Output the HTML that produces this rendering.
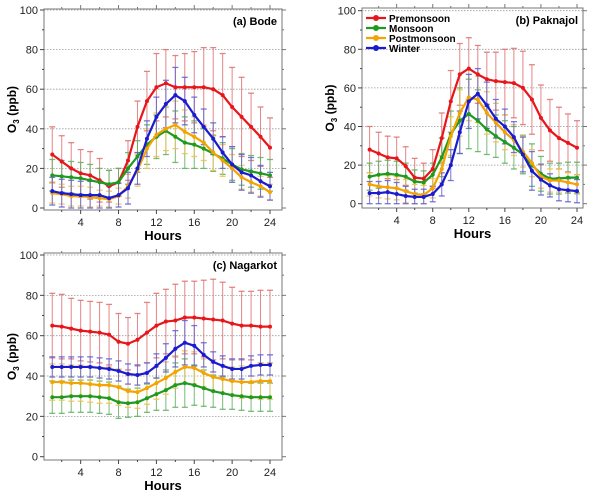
<!DOCTYPE html>
<html><head><meta charset="utf-8"><style>
body{margin:0;background:#fff;}
svg{display:block;font-family:"Liberation Sans",Arial,sans-serif;}
</style></head><body>
<svg id="fig" width="600" height="497" viewBox="0 0 600 497"></svg>
<script>
const hours=[1,2,3,4,5,6,7,8,9,10,11,12,13,14,15,16,17,18,19,20,21,22,23,24];
const xTicks=[4,8,12,16,20,24];
const yTicks=[0,20,40,60,80,100];
const seriesNames=["Premonsoon","Monsoon","Postmonsoon","Winter"];
const seriesColors=["#e8151b","#1f9a1f","#f5a300","#1a1ad0"];
const errColors=["#e07070","#5fb05f","#f0c050","#6060d0"];
// Panel (a) Bode
const bodePre=[27,23.5,20,17.5,16.5,14,11,13,24,41,54,61,63,61,61,61,61,60,57,51,46,41,36,30.5];
const bodePreErr=[14,13,13,12,12,11,8,7,10,13,15,17,17,16,17,18,20,21,21,20,20,17,15,15];
const bodeMon=[16.5,16,15.5,15,14,13,12,13,20,26,32,36,39,36,33,32,30,27.5,25,22,19.5,18.5,17.5,16.5];
const bodeMonErr=[8,8,8,8,8,7,7,7,8,8,10,11,12,13,13,12,10,9,8,8,8,8,8,8];
const bodePost=[7.5,7,6,6,5.5,5,4.5,6,11,19,30,37,40,42,38.5,36,33,28,24,20,15.5,13,11,8];
const bodePostErr=[5,5,5,5,5,4,4,4,6,8,10,11,11,12,11,10,9,9,8,7,6,5,5,4];
const bodeWin=[8.5,7.5,7,6.5,6.5,6.5,5,6.5,10,20,35,46,52.5,57,54,47,41,35,28,22,18,16.5,13.5,11];
const bodeWinErr=[7,7,7,7,7,7,6,6,8,8,9,10,12,14,12,9,9,8,8,9,9,9,8,7];
// Panel (b) Paknajol
const pakPre=[28,26,24,23.5,19.5,13.5,13,18,34,53,67,70,67,64.5,63.5,63,62.5,60,54,44.5,38,34,31.5,29];
const pakPreErr=[12,11,11,11,10,10,8,10,13,16,16,16,15,14,15,17,18,19,18,17,16,16,15,14];
const pakMon=[14,15,15.5,15,14,11.5,11,15,24,36,43,46.5,43,38.5,35,32,29,25.5,20,15.5,13,13,13.5,13.5];
const pakMonErr=[7,7,7,7,7,6,6,6,10,12,17,18,16,13,11,11,11,10,11,9,8,8,8,8];
const pakPost=[10,9,8.5,8,6.5,5,4.5,8,18,35,47,55,54,47,42,37,33,27,21,14,12,12,11,10];
const pakPostErr=[6,6,6,6,6,5,5,5,7,10,12,12,12,11,10,9,8,8,7,6,6,6,5,5];
const pakWin=[5.5,5.5,6,5,4,3.5,3.5,5,10,20,37,53,57,51,44,40,34.5,25.5,17,12.5,9.5,7.5,7,6.5];
const pakWinErr=[6,6,6,6,5,4,4,4,6,8,11,14,13,12,10,9,8,9,10,8,6,6,6,6];
// Panel (c) Nagarkot
const nagPre=[65,64.5,63.5,62.5,62,61.5,60.5,57,56,58,61.5,65,67,67.5,69,69,68.5,68,67.5,66,65,65,64.5,64.5];
const nagPreErr=[16,16,15,15,15,15,15,14,13,13,15,16,16,18,18,18,19,20,19,18,17,17,18,18];
const nagMon=[29.5,29.5,30,30,30,29.5,29,27,26.5,27,29,31,33,35.5,36.5,35.5,34,32.5,31.5,30.5,30,29.5,29.5,29.5];
const nagMonErr=[8,8,8,8,8,8,8,8,7,7,7,8,10,11,12,10,9,8,8,7,7,7,7,7];
const nagPost=[37,37,36.5,36.5,36,35.5,35.5,34.5,32.5,32,34,36.5,39,42,44.5,44,41.5,39.5,38.5,37.5,37,37,37.5,37.5];
const nagPostErr=[9,9,9,9,9,9,9,9,8,8,8,8,8,8,8,8,7,7,7,7,8,8,9,9];
const nagWin=[44.5,44.5,44.5,44.5,44.5,44,43.5,42.5,41,40.5,41.5,45,49,53.5,56.5,55,50.5,47,45,43.5,43.5,45,45.5,45.5];
const nagWinErr=[5,5,5,5,5,5,5,5,5,5,5,6,7,9,11,10,6,5,5,5,5,5,5,5];

const NS="http://www.w3.org/2000/svg";
const svg=document.getElementById('fig');
function el(tag,attrs,parent,text){const e=document.createElementNS(NS,tag);for(const k in attrs)e.setAttribute(k,attrs[k]);if(text!==undefined)e.textContent=text;(parent||svg).appendChild(e);return e;}

function panel(cfg){
  const g=el('g',{});
  
  
  const X=h=>cfg.x0+(h)*(cfg.x24-cfg.x0)/24;
  const Y=v=>cfg.y0+(v)*(cfg.y100-cfg.y0)/100;
  // frame
  const fr=el('rect',{x:cfg.fl,y:cfg.ft,width:cfg.fr-cfg.fl,height:cfg.fb-cfg.ft,fill:'none',stroke:'#777','stroke-width':1},g);
  
  
  // grid + y ticks
  yTicks.forEach(t=>{
    const y=Y(t);
    if(t>0){const gl=el('line',{x1:cfg.fl,x2:cfg.fr,y1:y,y2:y,stroke:'#999','stroke-dasharray':'1.5,1.5','stroke-width':0.8},g);
      }
    el('line',{x1:cfg.fl-4,x2:cfg.fl,y1:y,y2:y,stroke:'#444'},g);
    el('line',{x1:cfg.fr,x2:cfg.fr+4,y1:y,y2:y,stroke:'#777'},g);
    const tl=el('text',{x:cfg.fl-6,y:y+4,'font-size':11,'text-anchor':'end',fill:'#222'},g,String(t));
    
  });
  yTicks.slice(0,-1).forEach(t=>{const y=Y(t+10);el('line',{x1:cfg.fl-2,x2:cfg.fl,y1:y,y2:y,stroke:'#444'},g);el('line',{x1:cfg.fr,x2:cfg.fr+2,y1:y,y2:y,stroke:'#777'},g);});
  for(let h=2;h<=24;h+=2){const x=X(h);const big=h%4===0;
    el('line',{x1:x,x2:x,y1:cfg.fb,y2:cfg.fb+(big?4:2),stroke:'#444'},g);
    el('line',{x1:x,x2:x,y1:cfg.ft-(big?4:2),y2:cfg.ft,stroke:'#777'},g);}
  xTicks.forEach(t=>{const tl=el('text',{x:X(t),y:cfg.fb+16,'font-size':11,'text-anchor':'middle',fill:'#222'},g,String(t));
    });
  const xl=el('text',{x:(cfg.fl+cfg.fr)/2,y:cfg.fb+30,'font-size':13,'font-weight':'bold','text-anchor':'middle'},g,'Hours');
  
  const cy=(cfg.ft+cfg.fb)/2;
  const yl=el('text',{x:cfg.fl-28,y:cy,'font-size':12,'font-weight':'bold','text-anchor':'middle',transform:`rotate(-90 ${cfg.fl-28} ${cy})`},g);
  
  el('tspan',{},yl,'O');el('tspan',{'font-size':8,dy:3},yl,'3');el('tspan',{dy:-3},yl,' (ppb)');
  const tt=el('text',{x:cfg.fr-5,y:cfg.ft+16,'font-size':11,'font-weight':'bold','text-anchor':'end'},g,cfg.title);
  
  // series
  cfg.series.forEach((s,i)=>{
    const sg=el('g',{},g);
    
    
    hours.forEach((h,k)=>{
      const x=X(h),v=s[0][k],e=s[1][k];
      const lo=Math.max(0,v-e);
      el('line',{x1:x,x2:x,y1:Y(v+e),y2:Y(lo),stroke:errColors[i],'stroke-width':1,opacity:0.85},sg);
      el('line',{x1:x-3,x2:x+3,y1:Y(v+e),y2:Y(v+e),stroke:errColors[i],'stroke-width':1.3,opacity:0.85},sg);
      el('line',{x1:x-3,x2:x+3,y1:Y(lo),y2:Y(lo),stroke:errColors[i],'stroke-width':1.3,opacity:0.85},sg);
    });
  });
  cfg.series.forEach((s,i)=>{
    const pts=hours.map((h,k)=>X(h)+','+Y(s[0][k])).join(' ');
    const pl=el('polyline',{points:pts,fill:'none',stroke:seriesColors[i],'stroke-width':2.2},g);
    
    
    hours.forEach((h,k)=>{
      const c=el('circle',{cx:X(h),cy:Y(s[0][k]),r:2,fill:seriesColors[i]},g);
      
      
    });
  });
  if(cfg.legend){
    const lg=el('g',{},g);
    
    
    seriesNames.forEach((n,i)=>{
      const y=cfg.ft+10+i*10;
      const le=el('g',{},lg);
      
      
      el('line',{x1:cfg.fl+4,x2:cfg.fl+24,y1:y,y2:y,stroke:seriesColors[i],'stroke-width':2.2},le);
      el('circle',{cx:cfg.fl+14,cy:y,r:3,fill:seriesColors[i]},le);
      el('text',{x:cfg.fl+27,y:y+4,'font-size':10,'font-weight':'bold'},le,n);
    });
  }
}
panel({name:'panel-a-bode',title:'(a) Bode',x0:42.8,x24:270,y0:208,y100:10,fl:44,fr:282,ft:9,fb:210,legend:false,
  series:[[bodePre,bodePreErr],[bodeMon,bodeMonErr],[bodePost,bodePostErr],[bodeWin,bodeWinErr]]});
panel({name:'panel-b-paknajol',title:'(b) Paknajol',x0:360.6,x24:577,y0:203.7,y100:10.7,fl:362,fr:583,ft:8,fb:208,legend:true,
  series:[[pakPre,pakPreErr],[pakMon,pakMonErr],[pakPost,pakPostErr],[pakWin,pakWinErr]]});
panel({name:'panel-c-nagarkot',title:'(c) Nagarkot',x0:42.8,x24:270,y0:456.7,y100:255,fl:44,fr:282,ft:253,fb:460,legend:false,
  series:[[nagPre,nagPreErr],[nagMon,nagMonErr],[nagPost,nagPostErr],[nagWin,nagWinErr]]});
</script>
</body></html>
